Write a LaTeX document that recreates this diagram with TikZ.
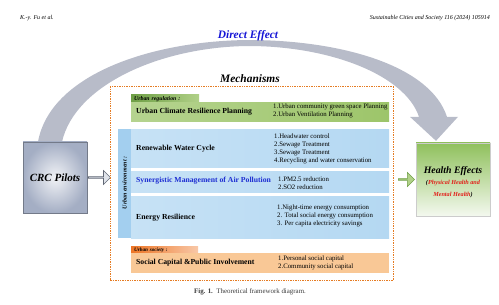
\documentclass[tikz,border=0pt]{standalone}
\usepackage{fontspec}
\setmainfont{Liberation Serif}
\usetikzlibrary{shapes.arrows,positioning,calc,backgrounds}
\definecolor{arcgray}{HTML}{B8BCC9}
\definecolor{effblue}{HTML}{1414D6}
\definecolor{mechorange}{HTML}{E57C23}
\definecolor{regdark}{HTML}{6E9F45}
\definecolor{reggreen}{HTML}{9DC56A}
\definecolor{envblue}{HTML}{B4D8F2}
\definecolor{envstrip}{HTML}{A3CFEF}
\definecolor{socfill}{HTML}{F9C896}
\definecolor{socdark}{HTML}{EE7626}
\definecolor{hlthgreen}{HTML}{8FC05C}
\definecolor{crcgray}{HTML}{A4AEC4}
\definecolor{captgray}{HTML}{3A3A3A}
\definecolor{synblue}{HTML}{1E2ED2}
\definecolor{redtxt}{HTML}{E3201B}
\tikzset{
  block/.style={anchor=north west, inner sep=0pt},
  tab/.style={anchor=north west, inner xsep=3pt, inner ysep=0pt, align=left, text depth=0pt, font=\fontsize{5.8}{6}\selectfont\bfseries\itshape},
  ttl/.style={anchor=west, inner sep=0pt, font=\fontsize{7.7}{8}\selectfont\bfseries},
  items/.style={anchor=west, inner sep=0pt, align=left, font=\fontsize{6.8}{8}\selectfont},
  fatarrow/.style={single arrow, single arrow head extend=2.5pt, minimum width=14pt, inner sep=0pt, line width=0.6pt},
  headtxt/.style={inner sep=0pt, font=\fontsize{6}{7}\selectfont\itshape},
  bigtitle/.style={inner sep=0pt, font=\fontsize{11.4}{13}\selectfont\bfseries\itshape},
}
\begin{document}
\begin{tikzpicture}[x=1pt, y=-1pt]
  \useasboundingbox (0,0) rectangle (499,305);
  \node[headtxt, anchor=west] (author) at (20,18) {K.-y. Fu et al.};
  \node[headtxt, anchor=east] (journal) at (490,18) {Sustainable Cities and Society 116 (2024) 105914};

  \node[bigtitle, text=effblue] (direct) at (248,36) {Direct Effect};
  \node[bigtitle] (mechlbl) at (250,79) {Mechanisms};

  \node[block, draw=crcgray!70!black, line width=0.3pt, shading=radial, inner color=white!85!crcgray, outer color=crcgray, minimum width=64pt, minimum height=71pt, anchor=center, font=\fontsize{11}{12}\selectfont\bfseries\itshape] (crc) at (55,177.5) {CRC Pilots};
  \node[block, draw=gray!40, line width=0.3pt, top color=hlthgreen, bottom color=white!90!hlthgreen, minimum width=74pt, minimum height=73pt, anchor=center] (hlth) at (453,179.5) {};
  \node[inner sep=0pt, align=center] (hlthtxt) at ([yshift=-3pt]hlth.center)
    {{\fontsize{9.8}{10}\selectfont\bfseries\itshape Health Effects}\\[-1pt]
     {\fontsize{6.2}{8.5}\selectfont\bfseries\itshape (\textcolor{redtxt}{Physical Health and}}\\
     {\fontsize{6.2}{8.5}\selectfont\bfseries\itshape \textcolor{redtxt}{Mental Health})}};

  \node[fatarrow, fill=crcgray!35, draw=crcgray!60!black, minimum height=22pt, right=1pt of crc] (crcarr) {};
  \node[fatarrow, fill=reggreen!80, draw=regdark, minimum height=16pt, left=1pt of hlth] (hltharr) {};

  \node[block, draw=mechorange, line width=0.6pt, dash pattern=on 1.4pt off 1pt, minimum width=283pt, minimum height=193pt] (mech) at (110,86.5) {};

  \node[tab, text width=62pt, minimum height=8pt, left color=regdark, right color=reggreen!80] (regtab) at (131,94) {Urban regulation :};
  \node[block, minimum width=258pt, minimum height=19pt, left color=reggreen!75!white, middle color=reggreen!30!white, right color=reggreen] (ucrp) at (131,102) {};
  \node[ttl] (ucrpttl) at (136,112) {Urban Climate Resilience Planning};
  \node[items] (ucrpitems) at (273,111) {1.Urban community green space Planning\\2.Urban Ventilation Planning};

  \node[block, minimum width=13pt, minimum height=109pt, fill=envstrip] (envside) at (118,129) {};
  \node[rotate=90, inner sep=0pt, font=\fontsize{6}{7}\selectfont\bfseries\itshape] (envlbl) at (124.5,183) {Urban environment :};
  \node[block, minimum width=258pt, minimum height=38pt, left color=envblue!75!white, middle color=envblue!15!white, right color=envblue] (rwc) at (131,129) {};
  \node[ttl] (rwcttl) at (136,149) {Renewable Water Cycle};
  \node[items] (rwcitems) at (274,149) {1.Headwater control\\2.Sewage Treatment\\3.Sewage Treatment\\4.Recycling and water conservation};
  \node[block, minimum width=258pt, minimum height=21pt, left color=envblue!75!white, middle color=envblue!25!white, right color=envblue] (apm) at (131,171.5) {};
  \node[ttl, text=synblue] (apmttl) at (136,181) {Synergistic Management of Air Pollution};
  \node[items] (apmitems) at (278,183) {1.PM2.5 reduction\\2.SO2 reduction};
  \node[block, minimum width=258pt, minimum height=42pt, left color=envblue!75!white, middle color=envblue!20!white, right color=envblue] (enr) at (131,196) {};
  \node[ttl] (enrttl) at (136,218) {Energy Resilience};
  \node[items] (enritems) at (277,216) {1.Night-time energy consumption\\2. Total social energy consumption\\3. Per capita electricity savings};

  \node[tab, text width=61pt, minimum height=7pt, left color=socdark, right color=socdark!40!white, font=\fontsize{5.2}{6}\selectfont\bfseries\itshape] (soctab) at (131,246) {Urban society :};
  \node[block, minimum width=258pt, minimum height=20pt, fill=socfill] (spi) at (131,253) {};
  \node[ttl] (spittl) at (136,263) {Social Capital \&Public Involvement};
  \node[items] (spiitems) at (278,263) {1.Personal social capital\\2.Community social capital};

  \node[inner sep=0pt, text=captgray, font=\fontsize{6.9}{8}\selectfont] (caption) at (250,292) {\textbf{Fig. 1.}\ \ Theoretical framework diagram.};

  \path (crc.north) ++(-17,0) coordinate (arcout) ++(24,0) coordinate (arcin);
  \path (hlth.north) ++(-17,-2) coordinate (arctip);
  \begin{scope}[on background layer]
    \fill[arcgray] (arcout) .. controls (50,75) and (150,41) .. (248,40) .. controls (340,40) and (430,65) .. ($(arctip)+(11,-24)$) -- ($(arctip)+(22,-24)$) -- (arctip) -- ($(arctip)+(-26,-24)$) -- ($(arctip)+(-17,-24)$) .. controls (405,75) and (330,46) .. (248,46) .. controls (160,47) and (75,85) .. (arcin) -- cycle;
  \end{scope}
\end{tikzpicture}
\end{document}
